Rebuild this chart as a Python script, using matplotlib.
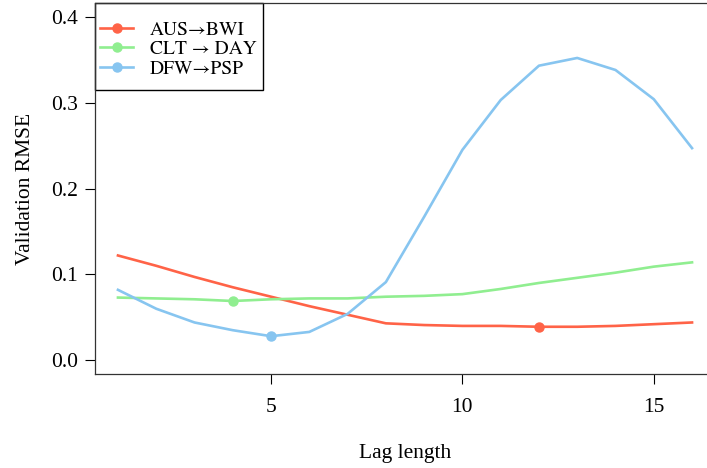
import matplotlib
matplotlib.use("Agg")
import matplotlib.pyplot as plt
from matplotlib.patches import Rectangle

plt.rcParams["font.family"] = ["Liberation Serif", "DejaVu Serif"]

# lag lengths and validation RMSE
lags = list(range(1, 17))
aus_bwi = [0.122, 0.110, 0.097, 0.085, 0.074, 0.063, 0.053, 0.043,
           0.041, 0.040, 0.040, 0.039, 0.039, 0.040, 0.042, 0.044]
clt_day = [0.073, 0.072, 0.071, 0.069, 0.071, 0.072, 0.072, 0.074,
           0.075, 0.077, 0.083, 0.090, 0.096, 0.102, 0.109, 0.114]
dfw_psp = [0.082, 0.060, 0.044, 0.035, 0.028, 0.033, 0.054, 0.091,
           0.167, 0.245, 0.303, 0.343, 0.352, 0.338, 0.304, 0.247]

labels = ["AUS\u2192BWI", "CLT \u2192 DAY", "DFW\u2192PSP"]
colors = ["#ff6347", "#90ee90", "#87c5f0"]
best = [12, 4, 5]  # lag marked with a dot on each curve

xticks = [5, 10, 15]
yticks = [0.0, 0.1, 0.2, 0.3, 0.4]

W, H = 707, 468
fig = plt.figure(figsize=(W / 100, H / 100), dpi=100)
ax = fig.add_axes([95 / W, 1 - 374 / H, 620 / W, 371 / H])

for series, lab, col, b in zip([aus_bwi, clt_day, dfw_psp], labels, colors, best):
    ax.plot(lags, series, color=col, lw=1.9, marker="o", ms=6.5,
            markevery=[b - 1], label=lab)

ax.set_xlim(0.4, 16.6)
ax.set_ylim(-0.016, 0.416)
ax.set_xticks(xticks)
ax.set_yticks(yticks)
ax.set_yticklabels(["%.1f" % v for v in yticks])
ax.tick_params(direction="out", length=7.2, width=0.8, labelsize=15.5, pad=5)
ax.tick_params(axis="x", pad=10)
for s in ax.spines.values():
    s.set_color("#333333")
    s.set_linewidth(0.9)

ax.set_xlabel("Lag length", fontsize=15.5, labelpad=19.5)
ax.set_ylabel("Validation RMSE", fontsize=15.5, labelpad=11.5)

# legend without frame (STIX has the long arrow), then an R-style box
leg = ax.legend(loc="upper left", bbox_to_anchor=(100 / W, 1 - 21 / H),
                bbox_transform=fig.transFigure, borderaxespad=0, borderpad=0,
                prop={"family": "STIXGeneral", "size": 14}, frameon=False,
                handlelength=1.7, handletextpad=0.88, labelspacing=0.1)
fig.canvas.draw()
bb = leg.get_window_extent().transformed(fig.transFigure.inverted())
x0 = 95 / W
y1 = 1 - 3 / H
x1 = bb.x1 + 6 / W
y0 = bb.y0 - 12 / H
fig.patches.append(Rectangle((x0, y0), x1 - x0, y1 - y0, transform=fig.transFigure,
                             fill=True, facecolor="white", edgecolor="black",
                             lw=1.0, zorder=1))
leg.set_zorder(10)
ax.set_zorder(2)
ax.patch.set_alpha(0)

fig.savefig("out.png", dpi=100)
